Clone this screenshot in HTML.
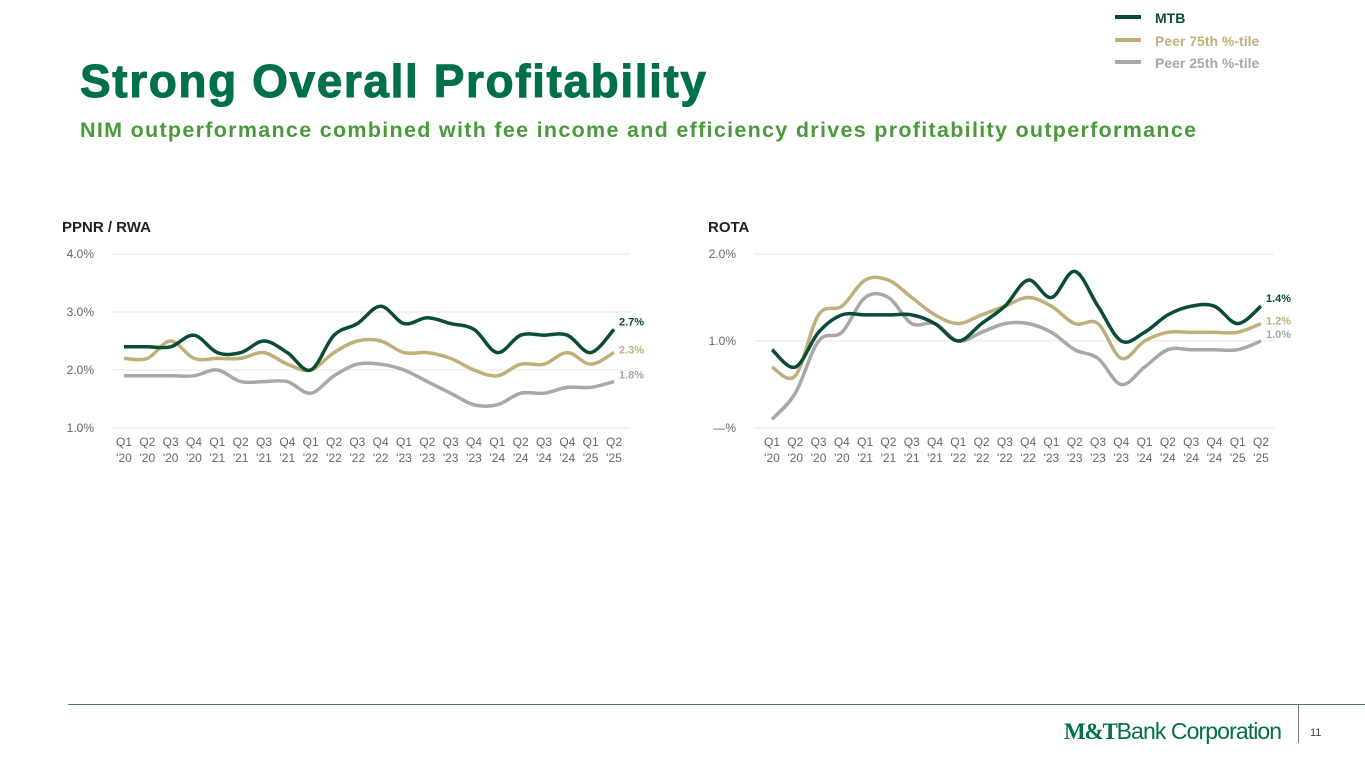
<!DOCTYPE html>
<html><head><meta charset="utf-8"><style>
body{margin:0;width:1365px;height:768px;background:#fff;font-family:"Liberation Sans",sans-serif;position:relative;overflow:hidden}
.t{position:absolute;white-space:nowrap}
</style></head><body>
<div class="t" style="left:80px;top:54px;font-size:46px;font-weight:bold;color:#00704a;letter-spacing:1.6px;-webkit-text-stroke:1px #00704a">Strong Overall Profitability</div>
<div class="t" style="left:80px;top:118px;font-size:21.5px;font-weight:bold;color:#4a9a3c;letter-spacing:1.3px">NIM outperformance combined with fee income and efficiency drives profitability outperformance</div>
<div>
<div style="position:absolute;left:1115px;top:15px;width:26px;height:4px;background:#0a4d32"></div><div class="t" style="left:1155px;top:10px;font-size:14px;font-weight:bold;color:#0a4d32">MTB</div>
<div style="position:absolute;left:1115px;top:38px;width:26px;height:4px;background:#bfb07a"></div><div class="t" style="left:1155px;top:33px;font-size:14px;font-weight:bold;color:#bfb07a">Peer 75th %-tile</div>
<div style="position:absolute;left:1115px;top:60px;width:26px;height:4px;background:#a8a8a8"></div><div class="t" style="left:1155px;top:55px;font-size:14px;font-weight:bold;color:#a8a8a8">Peer 25th %-tile</div>
</div>
<div class="t" style="left:62px;top:219px;font-size:15px;font-weight:bold;color:#222">PPNR / RWA</div>
<div class="t" style="left:708px;top:219px;font-size:15px;font-weight:bold;color:#222">ROTA</div>
<svg id="svg" width="1365" height="768" style="position:absolute;left:0;top:0"></svg>
<div style="position:absolute;left:68px;top:704px;width:1297px;height:1px;background:#4f7a66"></div>
<div style="position:absolute;left:1298px;top:705px;width:1px;height:38px;background:#777"></div>
<div class="t" style="left:1064px;top:718px;font-size:23px;color:#00704a;letter-spacing:-0.9px"><b style="font-family:'Liberation Serif',serif;letter-spacing:-1.2px">M&amp;T</b>Bank Corporation</div>
<div class="t" style="left:1310px;top:727px;font-size:11px;color:#444">11</div>
<script>
const cats=["Q1 '20","Q2 '20","Q3 '20","Q4 '20","Q1 '21","Q2 '21","Q3 '21","Q4 '21","Q1 '22","Q2 '22","Q3 '22","Q4 '22","Q1 '23","Q2 '23","Q3 '23","Q4 '23","Q1 '24","Q2 '24","Q3 '24","Q4 '24","Q1 '25","Q2 '25"];
const ppnrMtb=[2.4,2.4,2.4,2.6,2.3,2.3,2.5,2.3,2.0,2.6,2.8,3.1,2.8,2.9,2.8,2.7,2.3,2.6,2.6,2.6,2.3,2.7];
const ppnr75=[2.2,2.2,2.5,2.2,2.2,2.2,2.3,2.1,2.0,2.3,2.5,2.5,2.3,2.3,2.2,2.0,1.9,2.1,2.1,2.3,2.1,2.3];
const ppnr25=[1.9,1.9,1.9,1.9,2.0,1.8,1.8,1.8,1.6,1.9,2.1,2.1,2.0,1.8,1.6,1.4,1.4,1.6,1.6,1.7,1.7,1.8];
const ppnrTicks=[1.0,2.0,3.0,4.0];
const ppnrTickLabels=["1.0%","2.0%","3.0%","4.0%"];
const rotaMtb=[0.9,0.7,1.1,1.3,1.3,1.3,1.3,1.2,1.0,1.2,1.4,1.7,1.5,1.8,1.4,1.0,1.1,1.3,1.4,1.4,1.2,1.4];
const rota75=[0.7,0.6,1.3,1.4,1.7,1.7,1.5,1.3,1.2,1.3,1.4,1.5,1.4,1.2,1.2,0.8,1.0,1.1,1.1,1.1,1.1,1.2];
const rota25=[0.1,0.4,1.0,1.1,1.5,1.5,1.2,1.2,1.0,1.1,1.2,1.2,1.1,0.9,0.8,0.5,0.7,0.9,0.9,0.9,0.9,1.0];
const rotaTicks=[0,1.0,2.0];
const rotaTickLabels=["—%","1.0%","2.0%"];
const NS="http://www.w3.org/2000/svg",svg=document.getElementById('svg');
function mk(t,a,p){const e=document.createElementNS(NS,t);for(const k in a)e.setAttribute(k,a[k]);(p||svg).appendChild(e);return e;}
function path(pts){let d=`M${pts[0][0]},${pts[0][1]}`;for(let i=0;i<pts.length-1;i++){const p0=pts[Math.max(0,i-1)],p1=pts[i],p2=pts[i+1],p3=pts[Math.min(pts.length-1,i+2)];const t=0.17;d+=` C${p1[0]+(p2[0]-p0[0])*t},${p1[1]+(p2[1]-p0[1])*t} ${p2[0]-(p3[0]-p1[0])*t},${p2[1]-(p3[1]-p1[1])*t} ${p2[0]},${p2[1]}`;}return d;}
function chart(name,x0,x1,gl,gr,yTop,yBot,vmin,vmax,ticks,labels,series){
  const g=mk('g',{});
  
  
  const X=i=>x0+(x1-x0)*i/(cats.length-1), Y=v=>yBot-(v-vmin)/(vmax-vmin)*(yBot-yTop);
  ticks.forEach((v,i)=>{
    const l=mk('line',{x1:gl,x2:gr,y1:Y(v),y2:Y(v),stroke:'#e6e6e6','stroke-width':1},g);
    
    
    const t=mk('text',{x:gl-18,y:Y(v)+4,'text-anchor':'end','font-size':12,fill:'#666','font-family':'Liberation Sans'},g);
    t.textContent=labels[i];
    
    
  });
  cats.forEach((c,i)=>{
    const [a,b]=c.split(' ');
    [a,b].forEach((s,j)=>{const t=mk('text',{x:X(i),y:yBot+18+j*16,'text-anchor':'middle','font-size':12,fill:'#666','font-family':'Liberation Sans'},g);t.textContent=s;
    
    });
  });
  series.forEach(s=>{
    const p=mk('path',{d:path(s.v.map((v,i)=>[X(i),Y(v)])),fill:'none',stroke:s.c,'stroke-width':3.5,'stroke-linejoin':'round'},g);
    
    
    const last=s.v[s.v.length-1];
    const t=mk('text',{x:X(cats.length-1)+5,y:Y(last)+s.dy,'font-size':11,'font-weight':'bold',fill:s.c,'font-family':'Liberation Sans'},g);
    t.textContent=last.toFixed(1)+'%';
    
    
  });
}
chart('ppnr-rwa-chart',124,614,112,630,254,428,1,4,ppnrTicks,ppnrTickLabels,[
 {n:'ppnr-peer25-line',v:ppnr25,c:'#a8a8a8',dy:-3},{n:'ppnr-peer75-line',v:ppnr75,c:'#bfb07a',dy:1},{n:'ppnr-mtb-line',v:ppnrMtb,c:'#0a4d32',dy:-4}]);
chart('rota-chart',772,1261,754,1274,254,428,0,2,rotaTicks,rotaTickLabels,[
 {n:'rota-peer25-line',v:rota25,c:'#a8a8a8',dy:-3},{n:'rota-peer75-line',v:rota75,c:'#bfb07a',dy:1},{n:'rota-mtb-line',v:rotaMtb,c:'#0a4d32',dy:-4}]);
</script>
</body></html>
